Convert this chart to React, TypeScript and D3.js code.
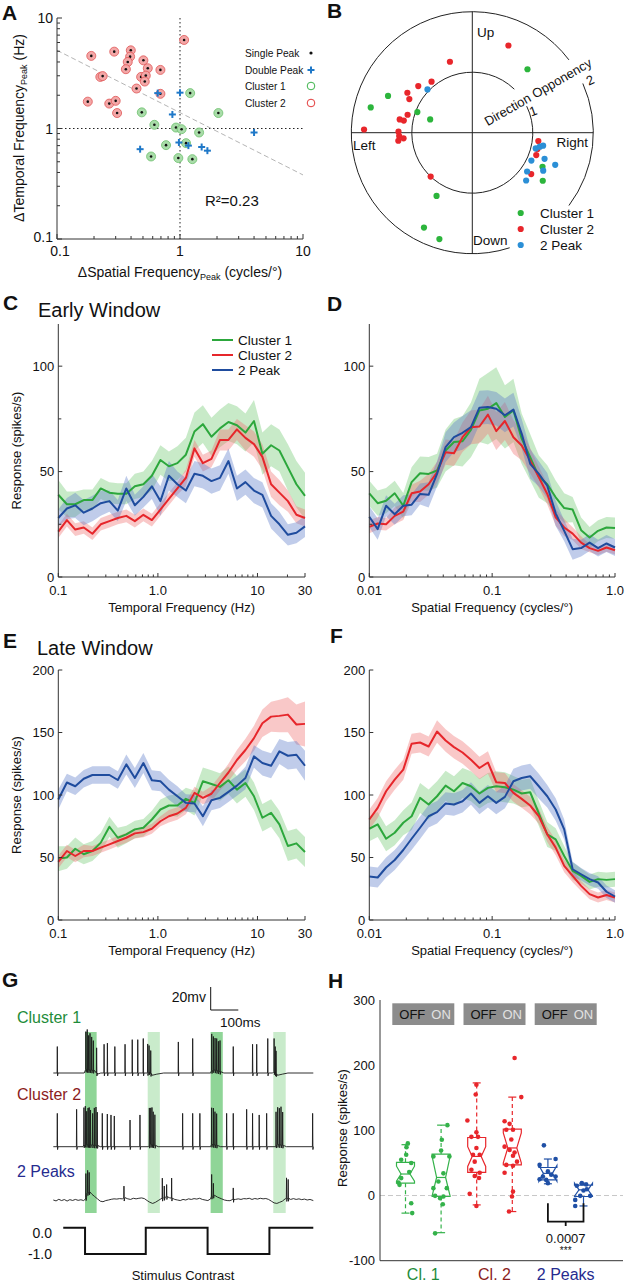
import React from "react";
import * as d3 from "d3";

const FONT = "'Liberation Sans', Arial, Helvetica, sans-serif";

// ---------------- Panel A data ----------------
const aC2SF = [0.19, 0.292, 0.398, 0.393, 0.376, 0.363, 0.504, 0.547, 0.483, 0.527, 0.517, 0.693, 0.443, 0.693, 0.225, 0.235, 0.178, 0.266, 0.3, 0.308, 1.08];
const aC2TF = [4.54, 4.96, 5.1, 4.47, 4.0, 3.44, 4.14, 3.51, 2.93, 3.01, 2.66, 3.39, 2.3, 2.06, 2.93, 2.98, 1.75, 1.68, 1.78, 1.38, 6.33];
const aC1SF = [0.489, 0.619, 0.77, 0.582, 0.928, 1.03, 0.969, 1.12, 1.26, 1.21, 1.43, 2.05];
const aC1TF = [1.4, 1.08, 0.707, 0.558, 1.02, 0.986, 0.54, 0.737, 0.528, 2.09, 0.92, 1.38];
const aDPSF = [0.659, 1.0, 0.867, 0.474, 0.98, 1.17, 1.5, 1.67, 4.0];
const aDPTF = [2.09, 2.11, 1.34, 0.65, 0.747, 0.7, 0.68, 0.63, 0.92];
const aFitSF = [0.1, 10];
const aFitTF = [5.1, 0.38];
const aLegend = ["Single Peak", "Double Peak", "Cluster 1", "Cluster 2"];

// ---------------- Panel B data ----------------
const bC1Dir = [49, 156.4, 166, 159.4, 162.5, 240.5, 243, 252.8, -25.9, -34.3];
const bC1Opp = [1.39, 1.52, 1.73, 0.97, 0.73, 1.2, 1.76, 1.84, 1.29, 1.41];
const bC2Dir = [67.5, 107.5, 128.6, 139.2, 148.4, 151.9, 164.5, 169.6, 170, 178.3, 179.2, 182.6, 184.7, 186.2, 226.5, -7.2, -14, -19.3, -35.1];
const bC2Opp = [1.56, 1.23, 1.08, 1.18, 1.26, 1.18, 1.11, 1.22, 1.15, 1.79, 1.22, 1.21, 1.14, 1.23, 1.0, 1.1, 1.11, 1.12, 1.19];
const bDPDir = [136, -13.9, -11.7, -10.4, -25.3, -19.9, -21.2, -28.2, -35.3, -41.6];
const bDPOpp = [1.03, 1.08, 1.14, 1.19, 1.08, 1.27, 1.47, 1.33, 1.11, 1.19];
const bLegend = ["Cluster 1", "Cluster 2", "2 Peak"];

// ---------------- Panels C-F data ----------------
const TF = [0.1, 0.122, 0.148, 0.18, 0.22, 0.267, 0.326, 0.396, 0.482, 0.587, 0.715, 0.87, 1.06, 1.29, 1.57, 1.91, 2.33, 2.83, 3.45, 4.2, 5.11, 6.22, 7.57, 9.22, 11.2, 13.7, 16.6, 20.2, 24.6, 30];
const SF = [0.01, 0.0117, 0.0137, 0.0161, 0.0189, 0.0221, 0.0259, 0.0304, 0.0356, 0.0418, 0.0489, 0.0574, 0.0672, 0.0788, 0.0924, 0.108, 0.127, 0.149, 0.174, 0.204, 0.24, 0.281, 0.329, 0.386, 0.452, 0.53, 0.621, 0.728, 0.853, 1];

const cGreen = [39, 34.5, 34.5, 36.5, 36.5, 42, 40, 39.5, 39.5, 43, 44, 48, 55.5, 52.5, 54, 58, 69, 72.5, 66.5, 70.5, 73.5, 72, 68.5, 74, 58.5, 62.5, 60, 52, 44, 38.5];
const cGreenErr = [7, 6, 6, 5, 5, 5, 5, 5, 5, 6, 6, 7, 7, 7, 8, 8, 9, 9, 9, 9, 9, 9, 9, 10, 10, 10, 10, 11, 11, 11];
const cRed = [21.5, 27, 22.5, 23.5, 20.5, 25, 26.5, 28, 29, 26.5, 29.5, 27, 32, 37, 42, 47, 61, 54, 56, 65, 65, 70, 66, 63, 57, 44, 40, 36, 29.5, 28];
const cRedErr = [3, 3, 3, 3, 3, 3, 3, 3, 3, 3, 3, 3, 3, 3, 3, 4, 4, 4, 4, 5, 5, 5, 6, 6, 6, 6, 6, 5, 4, 4];
const cBlue = [28, 32.5, 34, 30.5, 32.5, 35, 36, 31.5, 42, 34, 38, 43, 36, 48, 44, 41, 49, 48, 45.5, 47, 55, 42, 45, 41, 39, 29, 25, 20, 21, 24];
const cBlueErr = [4, 5, 6, 6, 6, 6, 5, 5, 6, 5, 5, 6, 7, 7, 6, 6, 6, 6, 6, 6, 6, 6, 6, 6, 6, 6, 6, 5, 5, 5];

const dGreen = [39.7, 35, 36.2, 39.7, 33.8, 45, 49.2, 48.9, 50.5, 60, 64, 64.4, 69.8, 79, 79.8, 82.5, 75.9, 79, 65.6, 56.8, 47.6, 44, 37.8, 32.7, 32, 22.2, 18.7, 21.9, 23.5, 23.2];
const dGreenErr = [6, 6, 6, 6, 6, 7, 8, 8, 8, 10, 11, 12, 13, 15, 17, 17, 15, 15, 12, 11, 10, 9, 8, 7, 6, 6, 5, 5, 5, 5];
const dRed = [23.8, 25.4, 25, 29, 31, 39.7, 40.6, 44, 49.7, 59.2, 58.7, 66.3, 71, 71.4, 77, 69.2, 74, 66.3, 62.4, 55.2, 47.3, 39.4, 28.3, 23.5, 20.6, 16.3, 13.7, 12.4, 14, 12.7];
const dRedErr = [3, 3, 3, 4, 4, 4, 5, 5, 5, 6, 6, 7, 8, 8, 9, 9, 9, 8, 7, 6, 5, 5, 4, 4, 3, 3, 2, 2, 2, 2];
const dBlue = [28.6, 22.7, 33.8, 29.8, 33.8, 34.3, 39.4, 39, 48.9, 61.6, 66.3, 68.4, 71.1, 80.3, 80.6, 79.8, 76.7, 79.4, 67.9, 53.7, 48.9, 43.3, 30.2, 21.9, 13.2, 13.7, 16.3, 13.7, 15.9, 14];
const dBlueErr = [5, 5, 5, 5, 5, 5, 5, 6, 6, 7, 7, 8, 8, 8, 8, 8, 8, 8, 7, 7, 6, 6, 6, 5, 5, 4, 4, 4, 4, 4];

const eGreen = [49.1, 50, 57, 52.6, 55.2, 61.9, 74.6, 65.8, 68.5, 72.5, 73.8, 80.4, 88.4, 91.6, 91.6, 96.9, 93.7, 111, 108.8, 106.5, 111.8, 104.3, 109.6, 99, 81.8, 85.7, 76.5, 59.2, 61.3, 54.4];
const eGreenErr = [10, 9, 9, 8, 8, 8, 8, 8, 7, 7, 7, 7, 8, 8, 9, 9, 10, 11, 11, 11, 11, 11, 11, 11, 11, 11, 11, 12, 12, 12];
const eRed = [46.5, 55.2, 51.2, 55.2, 55.2, 57.9, 60.5, 63.2, 65.8, 69.3, 70.3, 73, 79, 83, 85.2, 89.7, 101.7, 97.7, 101, 109.6, 118, 128, 136, 145.5, 157.4, 162.7, 163.3, 164.3, 156.4, 156.9];
const eRedErr = [5, 5, 5, 5, 4, 4, 4, 4, 4, 4, 4, 4, 4, 5, 5, 5, 5, 5, 6, 6, 7, 8, 9, 10, 11, 12, 13, 14, 16, 18];
const eBlue = [96.4, 110, 107, 113, 116, 116, 116, 112, 124.5, 113.6, 125.6, 111.8, 111, 104.3, 99, 93.7, 93.2, 83, 95.8, 97.7, 102.5, 107.5, 113.6, 130.9, 125.6, 123.4, 134.9, 131.4, 132.2, 123.4];
const eBlueErr = [8, 7, 7, 7, 7, 7, 7, 7, 8, 8, 8, 8, 8, 8, 8, 7, 7, 8, 8, 8, 8, 8, 9, 9, 10, 10, 10, 11, 11, 12];

const fGreen = [73, 76.5, 65, 69.8, 77.8, 83, 97.7, 92.4, 99, 107.5, 103, 109.6, 107, 101.2, 105.7, 107, 106.2, 104.3, 101.2, 102.2, 85.2, 68.5, 64.5, 51.2, 39.3, 35.3, 30.5, 32.7, 32.1, 32.7];
const fGreenErr = [10, 10, 10, 10, 10, 11, 12, 12, 12, 12, 12, 12, 12, 12, 12, 12, 12, 11, 11, 11, 10, 10, 9, 8, 7, 6, 6, 6, 6, 6];
const fRed = [80.4, 89.7, 103, 112.3, 120.3, 141, 142, 138.8, 150.8, 143.6, 138.3, 134, 128.2, 121.6, 126, 110.2, 109.6, 101.7, 96.9, 91.6, 83, 68.5, 57.9, 43.3, 35.3, 27.3, 20.7, 18, 20, 18];
const fRedErr = [8, 8, 8, 8, 8, 8, 8, 8, 9, 9, 9, 9, 9, 9, 9, 8, 8, 7, 7, 7, 6, 6, 6, 5, 5, 4, 4, 4, 4, 4];
const fBlue = [34.8, 34, 42, 48, 56, 65, 73.8, 83, 86.3, 93.2, 92.4, 95, 101.2, 93.7, 99, 93.7, 98.5, 111, 113.6, 115, 107, 99, 88.4, 72.5, 40.6, 36.6, 32.7, 30, 22.6, 18.8];
const fBlueErr = [8, 8, 8, 8, 8, 9, 9, 9, 9, 9, 9, 9, 9, 9, 9, 9, 9, 10, 10, 10, 10, 9, 9, 8, 6, 5, 5, 5, 5, 5];

const lineLegend = ["Cluster 1", "Cluster 2", "2 Peak"];

// ---------------- Panel G data (ms, mV) ----------------
const g1BaseT = [0, 112, 118, 150, 160, 172, 340, 348, 358, 375, 400, 570, 576, 608, 618, 795, 800, 812, 830, 850, 942];
const g1BaseV = [0, 0, 3, 2, -1, 0, 0, 1, -2, -1, 0, 0, 3, 1, 0, 0, 1, -2, -1, 0, 0];
const g1Spikes = [14.5, 118, 123, 128, 133, 139, 145, 157, 184, 196, 223, 260, 286, 306, 326, 342, 347, 353, 453, 505, 574, 580, 586, 592, 598, 604, 652, 722, 737, 777, 800, 804, 807];
const g1Amps = [23, 33, 35, 30, 32, 29, 26, 22, 25, 26, 23, 25, 29, 29, 30, 25, 23, 20, 27, 30, 32, 29, 28, 28, 26, 27, 23, 25, 25, 30, 29, 23, 20];

const g2BaseT = [0, 108, 112, 160, 170, 345, 350, 370, 380, 570, 573, 596, 606, 805, 808, 835, 845, 942];
const g2BaseV = [0, 0, 2, 1, 0, 0, 2, 1, 0, 0, 2, 1, 0, 0, 2, 1, 0, 0];
const g2Spikes = [14.5, 84.5, 111, 116, 121, 126, 130, 135, 142.5, 148.6, 154.6, 159.4, 177.5, 195.7, 209, 221, 278, 314, 348, 353, 357.5, 362, 368, 468.6, 505, 531, 573.7, 580, 585.7, 591.8, 628, 652, 700.5, 722, 746, 773, 807, 813, 819, 825, 831, 939.6];
const g2Amps = [29, 32.5, 32.5, 33.4, 29, 31.9, 32.5, 30.4, 27.6, 32.5, 33.4, 29, 29, 28.4, 27.6, 26.7, 23.2, 27.6, 32.5, 31.9, 32.5, 29, 26.7, 29, 29, 29, 31.9, 31.9, 29, 27.6, 29, 29, 32.5, 29, 27.6, 29, 29, 32.5, 31.9, 33.4, 29, 29];

const g3BaseT = [0, 10, 20, 30, 40, 50, 60, 70, 80, 90, 100, 110, 117, 122, 130, 140, 150, 160, 170, 180, 190, 200, 210, 220, 230, 240, 250, 260, 270, 280, 290, 300, 310, 320, 330, 340, 350, 360, 370, 380, 390, 400, 410, 420, 430, 440, 450, 460, 470, 480, 490, 500, 510, 520, 530, 540, 550, 560, 570, 575, 585, 595, 610, 620, 630, 640, 650, 660, 670, 680, 690, 700, 710, 720, 730, 740, 750, 760, 770, 780, 790, 800, 810, 820, 830, 840, 850, 860, 870, 880, 890, 900, 910, 920, 930, 942];
const g3BaseV = [0, -0.8, 0.6, -0.5, 0.4, -0.9, 0.3, -0.4, 0.5, -0.3, 0.2, -0.5, 1, 6, 7, 5, 3, 1, -1, -1.5, -0.5, 0, 0.6, 1, 0.8, 1.2, 1, 2, 1, 0.5, 1.5, 1, 1.5, 1.8, 1.2, -0.5, -2, -3, -2, -0.5, 1, 2, 3, 2, 1.5, 0.5, 0, -0.5, 0.5, 0, 1, 0.5, 1.2, 0.8, 1.5, 0.5, 0, -0.5, 1, 4, 4, 2.5, 1, 0, -0.5, -0.6, 0.5, 0.5, 1, 0.5, 1.2, 1, 1.5, 0.5, 1.3, 0.8, 1.5, 1, 1.3, 0.5, -1, -2.5, -3, -2, -1, 1, 1.5, 0.5, 1.2, 0.5, 1, 0.3, 0.8, 0, 0.5, -0.5];
const g3Spikes = [118, 124.4, 130, 256, 395, 402, 410.6, 428.7, 573.7, 580, 652, 845, 851];
const g3Amps = [21, 19.5, 17, 10.5, 17.5, 10, 10.5, 17.5, 19, 10.5, 10, 18, 16.5];

const gWindowsStart = [115, 342, 570, 797];
const gWindowsEnd = [157, 386, 614, 842];
const gStimT = [36, 115, 335, 559, 783, 942];
const gStimV = [0, -1, 0, -1, 0, 0];
const gTraceNames = ["Cluster 1", "Cluster 2", "2 Peaks"];

// ---------------- Panel H data ----------------
const hGroups = ["Cl. 1", "Cl. 2", "2 Peaks"];
const hMed = [33, 27.7, 60, 73, 34, 8.7];
const hQ1 = [19, -1.5, 35.4, 47, 24, -1.5];
const hQ3 = [51, 63.6, 89, 102, 43, 16];
const hWLo = [-27, -57, -14.4, -24.6, 18, -16];
const hWHi = [78, 108, 172.8, 151, 56, 19];
const hNotchLo = [22, -1, 44.6, 50, 22, -1];
const hNotchHi = [45, 60, 75, 96, 46, 19];
const hPts = [
  [80, 74, 62.6, 55, 50, 36, 26.7, 20, 16.4, -11.8, -27],
  [108, 85.6, 69, 60, 60, 34, 21.5, 11.3, 11.3, -1.5, -4, -0.5, -13.3, -58],
  [170, 155, 115, 97, 90, 90, 73, 62.6, 62.6, 52, 39.5, 35, 30, 27, 2.6, -16],
  [211, 151, 114, 110, 101, 101, 86, 75, 70, 66, 61, 52, 47, 45.6, 35, 6, -1.5, -24.6],
  [77, 56, 47, 37, 32, 29, 29, 24, 25, 19],
  [19, 17, 15, 9.7, 7.7, -0.5, -0.5, -6.7, -16],
];
const hJitter = [
  [2.3, 1, 0.7, -4.3, 5.7, 3.7, -4.3, -7, -6, 5.7, 6.7],
  [6.3, 0.7, 0, 8.3, -7.7, 2.3, -2.7, -7.7, 5.7, 2.3, -1, -6, 1.7, -6],
  [-0.3, -1, -9.3, -0.3, -5.3, 1.3, -0.3, -3.7, 3, -2, -5.3, 3, -2, 2.3, -7, -0.3],
  [2.3, 9, -7.7, -2.7, -6, 0.7, -1, -7.7, -2.7, 2.3, 0.7, 4.7, -6, 0.7, -7.7, 0.7, -0.3, -3.3],
  [-4, 7.7, -8.3, 0, 3.3, -5, 7.7, -1.7, -8.3, 0],
  [-1.7, 2.7, -6.7, 3.3, 0, 6.7, -3.3, -8.3, -8.3],
];
const hPValue = "0.0007";

// ---------------- colours ----------------
const GREEN = "#2ca73c";
const RED = "#e6262b";
const BLUE = "#1f4c9e";
const GREEN_BAND = "rgba(110,200,110,0.38)";
const RED_BAND = "rgba(240,110,110,0.38)";
const BLUE_BAND = "rgba(90,120,200,0.38)";
const AXIS = "#333";

function PanelLabel({ x, y, t }: { x: number; y: number; t: string }) {
  return (
    <text x={x} y={y} fontSize={21} fontWeight="bold" fill="#111">
      {t}
    </text>
  );
}

// ---------------- Panel A ----------------
function PanelA() {
  const x = d3.scaleLog().domain([0.1, 10]).range([57, 303]);
  const y = d3.scaleLog().domain([0.1, 10]).range([239, 18]);
  const majors = [0.1, 1, 10];
  const minors = [0.2, 0.3, 0.4, 0.5, 0.6, 0.7, 0.8, 0.9, 2, 3, 4, 5, 6, 7, 8, 9];
  const majLab = ["0.1", "1", "10"];
  const cross = (cx: number, cy: number, k: string) => (
    <g key={k} stroke="#1f78c8" strokeWidth={2}>
      <line x1={cx - 3.5} x2={cx + 3.5} y1={cy} y2={cy} />
      <line x1={cx} x2={cx} y1={cy - 3.5} y2={cy + 3.5} />
    </g>
  );
  const legY = [53, 70, 86, 103];
  return (
    <g>
      <PanelLabel x={2} y={20} t="A" />
      {/* reference lines */}
      <line x1={x(1)} x2={x(1)} y1={y(10)} y2={y(0.1)} stroke="#222" strokeDasharray="1.5,2.5" />
      <line x1={x(0.1)} x2={x(10)} y1={y(1)} y2={y(1)} stroke="#222" strokeDasharray="1.5,2.5" />
      <line x1={x(aFitSF[0])} x2={x(aFitSF[1])} y1={y(aFitTF[0])} y2={y(aFitTF[1])} stroke="#b5b5b5" strokeDasharray="5,3" strokeWidth={1} />
      {/* axes */}
      <line x1={x(0.1)} x2={x(0.1)} y1={y(10)} y2={y(0.1)} stroke={AXIS} />
      <line x1={x(0.1)} x2={x(10)} y1={y(0.1)} y2={y(0.1)} stroke={AXIS} />
      {majors.map((v, i) => (
        <g key={"ma" + i}>
          <line x1={x(0.1)} x2={x(0.1) + 5} y1={y(v)} y2={y(v)} stroke={AXIS} />
          <line x1={x(v)} x2={x(v)} y1={y(0.1)} y2={y(0.1) - 5} stroke={AXIS} />
          <text x={x(0.1) - 4} y={y(v) - (i === 0 ? 2 : 0)} dy="0.36em" textAnchor="end" fontSize={14} fill="#111">{majLab[i]}</text>
          <text x={x(v) + (i === 0 ? 3 : 0)} y={256} textAnchor="middle" fontSize={14} fill="#111">{majLab[i]}</text>
        </g>
      ))}
      {minors.map((v, i) => (
        <g key={"mi" + i}>
          <line x1={x(0.1)} x2={x(0.1) + 3} y1={y(v)} y2={y(v)} stroke={AXIS} />
          <line x1={x(v)} x2={x(v)} y1={y(0.1)} y2={y(0.1) - 3} stroke={AXIS} />
        </g>
      ))}
      {/* points */}
      {aC2SF.map((v, i) => (
        <g key={"c2" + i}>
          <circle cx={x(v)} cy={y(aC2TF[i])} r={4.5} fill="#f3a7a7" stroke="#e05555" strokeWidth={0.8} />
          <circle cx={x(v)} cy={y(aC2TF[i])} r={1.3} fill="#111" />
        </g>
      ))}
      {aC1SF.map((v, i) => (
        <g key={"c1" + i}>
          <circle cx={x(v)} cy={y(aC1TF[i])} r={4.5} fill="#a9dca9" stroke="#6cc06c" strokeWidth={0.8} />
          <circle cx={x(v)} cy={y(aC1TF[i])} r={1.3} fill="#111" />
        </g>
      ))}
      {aDPSF.map((v, i) => cross(x(v), y(aDPTF[i]), "dp" + i))}
      {/* legend */}
      {aLegend.map((t, i) => (
        <text key={"lg" + i} x={245} y={legY[i]} dy="0.36em" fontSize={10.2} fill="#111">{t}</text>
      ))}
      <circle cx={311} cy={legY[0]} r={1.6} fill="#111" />
      {cross(311, legY[1], "lgc")}
      <circle cx={311} cy={legY[2]} r={3.8} fill="none" stroke="#3cb44b" strokeWidth={1} />
      <circle cx={311} cy={legY[3]} r={3.8} fill="none" stroke="#e33b3b" strokeWidth={1} />
      <text x={205} y={206} fontSize={15} fill="#111">R²=0.23</text>
      {/* titles */}
      <text transform="translate(24,128) rotate(-90)" textAnchor="middle" fontSize={14} fill="#111">
        ΔTemporal Frequency<tspan fontSize={9} dy={3}>Peak</tspan><tspan dy={-3}> (Hz)</tspan>
      </text>
      <text x={180} y={277} textAnchor="middle" fontSize={14} fill="#111">
        ΔSpatial Frequency<tspan fontSize={9} dy={3}>Peak</tspan><tspan dy={-3}> (cycles/°)</tspan>
      </text>
    </g>
  );
}

// ---------------- Panel B ----------------
function PanelB() {
  const cx = 472.3;
  const cy = 132.7;
  const r = d3.scaleLinear().domain([0, 2]).range([0, 121]);
  const rad = (deg: number) => (deg * Math.PI) / 180;
  const arcPath = (rr: number, a0: number, a1: number) => {
    const p = d3.path();
    p.arc(cx, cy, rr, -rad(a0), -rad(a1), true);
    return p.toString();
  };
  const pos = (dir: number, opp: number) => [cx + r(opp) * Math.cos(rad(dir)), cy - r(opp) * Math.sin(rad(dir))];
  const dot = (dir: number, opp: number, col: string, k: string) => {
    const [px, py] = pos(dir, opp);
    return <circle key={k} cx={px} cy={py} r={3.1} fill={col} />;
  };
  const legCols = ["#2cb53c", "#e8262b", "#2b8fd6"];
  const legY = [213, 229, 245];
  return (
    <g>
      <PanelLabel x={327} y={18} t="B" />
      <g fill="none" stroke="#222" strokeWidth={1}>
        <path d={arcPath(r(1), 46, 386)} />
        <path d={arcPath(r(2), 37, 288)} />
        <path d={arcPath(r(2), 323, 384)} />
        <line x1={cx} x2={cx} y1={cy - r(2)} y2={cy + r(2)} />
        <line x1={cx - r(2)} x2={cx + r(2)} y1={cy} y2={cy} />
      </g>
      <text x={477} y={37} fontSize={13.5} fill="#111">Up</text>
      <text x={353} y={150} fontSize={13.5} fill="#111">Left</text>
      <text x={588} y={147} textAnchor="end" fontSize={13.5} fill="#111">Right</text>
      <text x={473} y={245} fontSize={13.5} fill="#111">Down</text>
      <text transform="translate(538,92) rotate(-30)" textAnchor="middle" dy="0.35em" fontSize={13} fill="#111">Direction Opponency</text>
      <text x={533} y={111} dy="0.35em" textAnchor="middle" fontSize={13} fill="#111" transform="rotate(-20,533,111)">1</text>
      <text x={590} y={80} dy="0.35em" textAnchor="middle" fontSize={13} fill="#111" transform="rotate(-25,590,80)">2</text>
      {bC1Dir.map((d, i) => dot(d, bC1Opp[i], legCols[0], "g" + i))}
      {bC2Dir.map((d, i) => dot(d, bC2Opp[i], legCols[1], "r" + i))}
      {bDPDir.map((d, i) => dot(d, bDPOpp[i], legCols[2], "b" + i))}
      {bLegend.map((t, i) => (
        <g key={"bl" + i}>
          <circle cx={520.7} cy={legY[i]} r={3.1} fill={legCols[i]} />
          <text x={540} y={legY[i]} dy="0.36em" fontSize={13.5} fill="#111">{t}</text>
        </g>
      ))}
    </g>
  );
}

// ---------------- Line panels ----------------
type Series = { mean: number[]; err: number[]; line: string; band: string };

function LinePanel(p: {
  xVals: number[];
  xDomain: [number, number];
  xRange: [number, number];
  yDomain: [number, number];
  yRange: [number, number];
  yTicks: number[];
  yMinor: number[];
  xTicks: number[];
  xTickLabels: string[];
  xMinor: number[];
  series: Series[];
  xTitle: string;
  yTitle?: boolean;
}) {
  const x = d3.scaleLog().domain(p.xDomain).range(p.xRange);
  const y = d3.scaleLinear().domain(p.yDomain).range(p.yRange);
  const x0 = p.xRange[0];
  const yb = p.yRange[0];
  const area = (s: Series) =>
    d3
      .area<number>()
      .x((_, i) => x(p.xVals[i]))
      .y0((v, i) => y(v - s.err[i]))
      .y1((v, i) => y(v + s.err[i]))(s.mean) as string;
  const line = (s: Series) =>
    d3
      .line<number>()
      .x((_, i) => x(p.xVals[i]))
      .y((v) => y(v))(s.mean) as string;
  return (
    <g>
      {p.series.map((s, i) => (
        <path key={"a" + i} d={area(s)} fill={s.band} stroke="none" />
      ))}
      {p.series.map((s, i) => (
        <path key={"l" + i} d={line(s)} fill="none" stroke={s.line} strokeWidth={2} strokeLinejoin="round" />
      ))}
      <line x1={x0} x2={x0} y1={p.yRange[1]} y2={yb} stroke={AXIS} />
      <line x1={x0} x2={p.xRange[1]} y1={yb} y2={yb} stroke={AXIS} />
      {p.yTicks.map((v, i) => (
        <g key={"yt" + i}>
          <line x1={x0} x2={x0 + 4} y1={y(v)} y2={y(v)} stroke={AXIS} />
          <text x={x0 - 4} y={y(v)} dy="0.36em" textAnchor="end" fontSize={13} fill="#111">{v}</text>
        </g>
      ))}
      {p.yMinor.map((v, i) => (
        <line key={"ym" + i} x1={x0} x2={x0 + 3} y1={y(v)} y2={y(v)} stroke={AXIS} />
      ))}
      {p.xTicks.map((v, i) => (
        <g key={"xt" + i}>
          <line x1={x(v)} x2={x(v)} y1={yb} y2={yb - 4} stroke={AXIS} />
          <text x={x(v)} y={yb + 18} textAnchor="middle" fontSize={13} fill="#111">{p.xTickLabels[i]}</text>
        </g>
      ))}
      {p.xMinor.map((v, i) => (
        <line key={"xm" + i} x1={x(v)} x2={x(v)} y1={yb} y2={yb - 2.5} stroke={AXIS} />
      ))}
      <text x={(p.xRange[0] + p.xRange[1]) / 2} y={yb + 35} textAnchor="middle" fontSize={13} fill="#111">{p.xTitle}</text>
      {p.yTitle && (
        <text transform={`translate(16,${(p.yRange[0] + p.yRange[1]) / 2}) rotate(-90)`} textAnchor="middle" dy="0.35em" fontSize={13} fill="#111">
          Response (spikes/s)
        </text>
      )}
    </g>
  );
}

const tfMinor = [0.2, 0.3, 0.4, 0.5, 0.6, 0.7, 0.8, 0.9, 2, 3, 4, 5, 6, 7, 8, 9, 20];
const sfMinor = [0.02, 0.03, 0.04, 0.05, 0.06, 0.07, 0.08, 0.09, 0.2, 0.3, 0.4, 0.5, 0.6, 0.7, 0.8, 0.9];

function PanelsCF() {
  const ser = (g: number[], ge: number[], r: number[], re: number[], b: number[], be: number[]): Series[] => [
    { mean: g, err: ge, line: GREEN, band: GREEN_BAND },
    { mean: r, err: re, line: RED, band: RED_BAND },
    { mean: b, err: be, line: BLUE, band: BLUE_BAND },
  ];
  const legCols = [GREEN, RED, BLUE];
  const legY = [340, 355, 370];
  return (
    <g>
      <PanelLabel x={3} y={310} t="C" />
      <text x={38} y={317} fontSize={20} fill="#111">Early Window</text>
      <LinePanel
        xVals={TF} xDomain={[0.1, 30]} xRange={[58.3, 305]} yDomain={[0, 120]} yRange={[577, 324]}
        yTicks={[0, 50, 100]} yMinor={[25, 75]} xTicks={[0.1, 1, 10, 30]} xTickLabels={["0.1", "1.0", "10", "30"]}
        xMinor={tfMinor} series={ser(cGreen, cGreenErr, cRed, cRedErr, cBlue, cBlueErr)} xTitle="Temporal Frequency (Hz)" yTitle
      />
      {lineLegend.map((t, i) => (
        <g key={"cl" + i}>
          <line x1={212} x2={233} y1={legY[i]} y2={legY[i]} stroke={legCols[i]} strokeWidth={2} />
          <text x={238} y={legY[i]} dy="0.36em" fontSize={13.5} fill="#111">{t}</text>
        </g>
      ))}
      <PanelLabel x={327} y={311} t="D" />
      <LinePanel
        xVals={SF} xDomain={[0.01, 1]} xRange={[369.3, 615]} yDomain={[0, 120]} yRange={[577, 324]}
        yTicks={[0, 50, 100]} yMinor={[25, 75]} xTicks={[0.01, 0.1, 1]} xTickLabels={["0.01", "0.1", "1.0"]}
        xMinor={sfMinor} series={ser(dGreen, dGreenErr, dRed, dRedErr, dBlue, dBlueErr)} xTitle="Spatial Frequency (cycles/°)"
      />
      <PanelLabel x={3} y={648} t="E" />
      <text x={37} y={655} fontSize={20} fill="#111">Late Window</text>
      <LinePanel
        xVals={TF} xDomain={[0.1, 30]} xRange={[58.3, 305]} yDomain={[0, 200]} yRange={[920, 670]}
        yTicks={[0, 50, 100, 150, 200]} yMinor={[]} xTicks={[0.1, 1, 10, 30]} xTickLabels={["0.1", "1.0", "10", "30"]}
        xMinor={tfMinor} series={ser(eGreen, eGreenErr, eRed, eRedErr, eBlue, eBlueErr)} xTitle="Temporal Frequency (Hz)" yTitle
      />
      <PanelLabel x={330} y={643} t="F" />
      <LinePanel
        xVals={SF} xDomain={[0.01, 1]} xRange={[369.3, 615]} yDomain={[0, 200]} yRange={[920, 670]}
        yTicks={[0, 50, 100, 150, 200]} yMinor={[]} xTicks={[0.01, 0.1, 1]} xTickLabels={["0.01", "0.1", "1.0"]}
        xMinor={sfMinor} series={ser(fGreen, fGreenErr, fRed, fRedErr, fBlue, fBlueErr)} xTitle="Spatial Frequency (cycles/°)"
      />
    </g>
  );
}

// ---------------- Panel G ----------------
function buildTrace(baseT: number[], baseV: number[], spikes: number[], amps: number[]) {
  const interp = d3.scaleLinear().domain(baseT).range(baseV);
  const pts: [number, number][] = [];
  baseT.forEach((t, i) => {
    if (!spikes.some((s) => t > s - 1 && t < s + 2.6)) pts.push([t, baseV[i]]);
  });
  spikes.forEach((s, i) => {
    const b = interp(s);
    pts.push([s - 0.8, b], [s, b + amps[i]], [s + 1.0, b - 2.5], [s + 2.5, b]);
  });
  pts.sort((a, b) => a[0] - b[0]);
  return pts;
}

function PanelG() {
  const t = d3.scaleLinear().domain([0, 942]).range([53.3, 313.3]);
  const mv = 23 / 20;
  const traces = [
    { pts: buildTrace(g1BaseT, g1BaseV, g1Spikes, g1Amps), y0: 1073, col: "#1e8c3a", ly: 1023 },
    { pts: buildTrace(g2BaseT, g2BaseV, g2Spikes, g2Amps), y0: 1146.7, col: "#8c1c1c", ly: 1100 },
    { pts: buildTrace(g3BaseT, g3BaseV, g3Spikes, g3Amps), y0: 1200, col: "#262b8f", ly: 1177 },
  ];
  const stimY = d3.scaleLinear().domain([-1, 0]).range([1254, 1227.7]);
  const stimLine = d3
    .line<number>()
    .x((v) => t(v))
    .y((_, i) => stimY(gStimV[i]))
    .curve(d3.curveStepAfter)(gStimT) as string;
  const sbX = 210.7;
  return (
    <g>
      <PanelLabel x={2} y={987} t="G" />
      {gWindowsStart.map((s, i) => (
        <rect key={"w" + i} x={t(s)} y={1032} width={t(gWindowsEnd[i]) - t(s)} height={181} fill={i % 2 === 0 ? "#8fd597" : "#c9ebcb"} />
      ))}
      {traces.map((tr, i) => (
        <g key={"tr" + i}>
          <path
            d={d3.line<[number, number]>().x((d) => t(d[0])).y((d) => tr.y0 - d[1] * mv)(tr.pts) as string}
            fill="none" stroke="#1a1a1a" strokeWidth={0.9} strokeLinejoin="round"
          />
          <text x={17} y={tr.ly} fontSize={16} fill={tr.col}>{gTraceNames[i]}</text>
        </g>
      ))}
      {/* scale bar */}
      <line x1={sbX} x2={sbX} y1={1010 - 20 * mv} y2={1010} stroke="#111" />
      <line x1={sbX} x2={sbX + (t(100) - t(0))} y1={1010} y2={1010} stroke="#111" />
      <text x={206} y={1002} textAnchor="end" fontSize={14} fill="#111">20mv</text>
      <text x={220} y={1027} fontSize={13.5} fill="#111">100ms</text>
      {/* stimulus */}
      <path d={stimLine} fill="none" stroke="#111" strokeWidth={2} />
      <text x={52} y={1238} textAnchor="end" fontSize={14} fill="#111">0.0</text>
      <text x={52} y={1259} textAnchor="end" fontSize={14} fill="#111">-1.0</text>
      <text x={183} y={1280} textAnchor="middle" fontSize={13} fill="#111">Stimulus Contrast</text>
    </g>
  );
}

// ---------------- Panel H ----------------
function PanelH() {
  const y = d3.scaleLinear().domain([-100, 300]).range([1260.7, 1000]);
  const xi = d3.scaleLinear().domain([0, 5]).range([405.5, 583.5]);
  const lineCols = ["#34b24a", "#34b24a", "#e8262b", "#e8262b", "#1f4fa5", "#1f4fa5"];
  const labCols = ["#1e8c3a", "#8c1c1c", "#262b8f"];
  const w = 18;
  const axL = 380;
  const axR = 623;
  return (
    <g>
      <PanelLabel x={328} y={988} t="H" />
      <line x1={axL} x2={axR} y1={y(0)} y2={y(0)} stroke="#c8c8c8" strokeDasharray="5,3" />
      <line x1={axL} x2={axL} y1={y(300)} y2={y(-100)} stroke={AXIS} />
      <line x1={axL} x2={axR} y1={y(-100)} y2={y(-100)} stroke={AXIS} />
      {[300, 200, 100, 0, -100].map((v) => (
        <text key={"ht" + v} x={axL - 5} y={y(v)} dy="0.36em" textAnchor="end" fontSize={13} fill="#111">{v}</text>
      ))}
      <text transform={`translate(342,1128) rotate(-90)`} textAnchor="middle" dy="0.35em" fontSize={13} fill="#111">Response (spikes/s)</text>
      {hGroups.map((g, gi) => {
        const mid = (xi(gi * 2) + xi(gi * 2 + 1)) / 2;
        return (
          <g key={"grp" + gi}>
            <rect x={mid - 31} y={1003.3} width={62} height={21.7} fill="#8c8c8c" />
            <text x={mid - 24} y={1019} fontSize={13} fill="#111">OFF</text>
            <text x={mid + 8} y={1019} fontSize={13} fill="#e2e2e2">ON</text>
            <text x={mid} y={1280} textAnchor="middle" fontSize={16} fill={labCols[gi]}>{g}</text>
          </g>
        );
      })}
      {hMed.map((m, i) => {
        const cx = xi(i);
        const col = lineCols[i];
        const dash = i < 4 ? "4,3" : undefined;
        const box = [
          [cx - w / 2, y(hQ3[i])], [cx + w / 2, y(hQ3[i])], [cx + w / 2, y(hNotchHi[i])], [cx + w / 4, y(m)],
          [cx + w / 2, y(hNotchLo[i])], [cx + w / 2, y(hQ1[i])], [cx - w / 2, y(hQ1[i])], [cx - w / 2, y(hNotchLo[i])],
          [cx - w / 4, y(m)], [cx - w / 2, y(hNotchHi[i])],
        ];
        return (
          <g key={"bx" + i} stroke={col} fill="none" strokeWidth={1.2}>
            <line x1={cx} x2={cx} y1={y(hQ3[i])} y2={y(hWHi[i])} strokeDasharray={dash} />
            <line x1={cx} x2={cx} y1={y(hQ1[i])} y2={y(hWLo[i])} strokeDasharray={dash} />
            <line x1={cx - 4} x2={cx + 4} y1={y(hWHi[i])} y2={y(hWHi[i])} />
            <line x1={cx - 4} x2={cx + 4} y1={y(hWLo[i])} y2={y(hWLo[i])} />
            <path d={"M" + box.map((p) => p.join(",")).join("L") + "Z"} />
            <line x1={cx - w / 4} x2={cx + w / 4} y1={y(m)} y2={y(m)} />
            {hPts[i].map((v, j) => (
              <circle key={j} cx={cx + hJitter[i][j]} cy={y(v)} r={2.3} fill={col} stroke="none" />
            ))}
          </g>
        );
      })}
      {/* significance bracket */}
      <g stroke="#111" strokeWidth={1.8} fill="none">
        <path d={`M${xi(4)},1203.3V1221.7H${xi(5)}V1203.3`} />
        <line x1={(xi(4) + xi(5)) / 2} x2={(xi(4) + xi(5)) / 2} y1={1221.7} y2={1226} />
      </g>
      <text x={(xi(4) + xi(5)) / 2} y={1243} textAnchor="middle" fontSize={13} fill="#111">{hPValue}</text>
      <text x={(xi(4) + xi(5)) / 2} y={1254} textAnchor="middle" fontSize={10} fill="#111">***</text>
    </g>
  );
}

export default function App() {
  return (
    <svg
      width={627}
      height={1284}
      viewBox="0 0 627 1284"
      style={{ position: "absolute", left: 0, top: 0, display: "block" }}
      fontFamily={FONT}
    >
      <rect width={627} height={1284} fill="#fff" />
      <PanelA />
      <PanelB />
      <PanelsCF />
      <PanelG />
      <PanelH />
    </svg>
  );
}
